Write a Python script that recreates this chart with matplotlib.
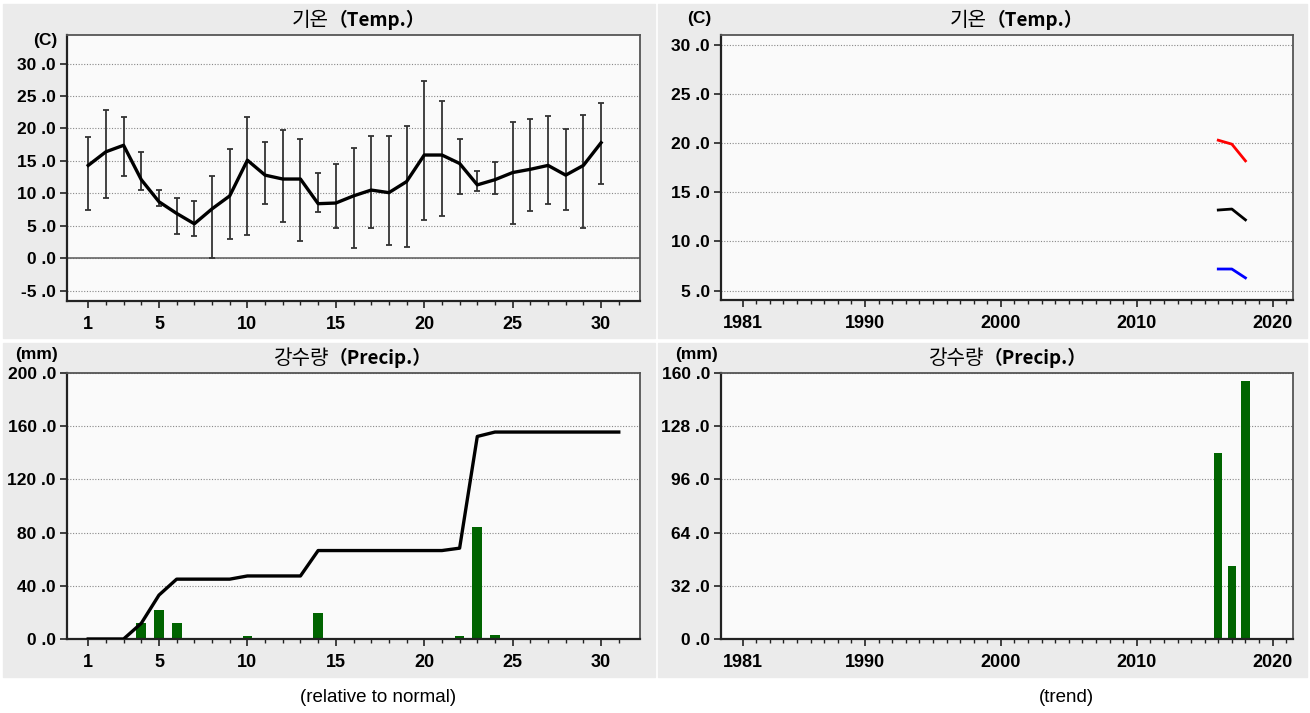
import matplotlib
matplotlib.use("Agg")
from matplotlib import pyplot as plt
from matplotlib.patches import Rectangle
from matplotlib.ticker import FixedLocator, FuncFormatter

days = list(range(1, 31))
temp_mean = [14.3, 16.4, 17.4, 12.1, 8.7, 6.9, 5.3, 7.6, 9.6, 15.1, 12.8, 12.2, 12.2, 8.4, 8.5,
             9.6, 10.5, 10.1, 11.8, 15.9, 15.9, 14.6, 11.3, 12.1, 13.2, 13.7, 14.3, 12.8, 14.3, 17.8]
temp_hi = [18.7, 22.8, 21.8, 16.3, 10.5, 9.2, 8.8, 12.6, 16.9, 21.7, 17.9, 19.8, 18.3, 13.2, 14.5,
           17.0, 18.8, 18.8, 20.4, 27.3, 24.2, 18.4, 13.5, 14.8, 21.0, 21.5, 21.9, 19.9, 22.1, 23.9]
temp_lo = [7.5, 9.2, 12.6, 10.5, 8.1, 3.7, 3.4, 0.0, 3.0, 3.6, 8.4, 5.6, 2.7, 7.1, 4.6,
           1.5, 4.6, 2.1, 1.7, 5.9, 6.5, 9.9, 10.4, 9.9, 5.3, 7.2, 8.4, 7.4, 4.6, 11.4]

rain_days = list(range(1, 32))
rain_daily = [0, 0, 0, 11.8, 22.0, 11.8, 0, 0, 0, 2.3, 0, 0, 0, 19.3, 0, 0,
              0, 0, 0, 0, 0, 2.0, 84.5, 3.0, 0, 0, 0, 0, 0, 0, 0]
rain_cum = [0, 0, 0, 11.8, 33.0, 45.0, 45.0, 45.0, 45.0, 47.4, 47.4, 47.4, 47.4, 66.5, 66.5, 66.5,
            66.5, 66.5, 66.5, 66.5, 66.5, 68.3, 152.3, 155.6, 155.6, 155.6, 155.6, 155.6, 155.6, 155.6, 155.6]

trend_years = [2016, 2017, 2018]
tmax_trend = [20.3, 19.9, 18.2]
tavg_trend = [13.2, 13.3, 12.2]
tmin_trend = [7.2, 7.2, 6.3]
rain_trend = [112.0, 44.0, 155.2]

W, H = 1310, 713
KR = ["Noto Sans CJK KR", "DejaVu Sans"]
plt.rcParams["font.family"] = ["Liberation Sans", "DejaVu Sans"]

fig = plt.figure(figsize=(W / 100, H / 100), dpi=100)
fig.patch.set_facecolor("white")


def px_box(x0, y0, x1, y1):
    return [x0 / W, 1 - y1 / H, (x1 - x0) / W, (y1 - y0) / H]


# gray panel backgrounds
for x0, y0, x1, y1 in [(3, 4, 655, 338), (658, 4, 1307, 338), (3, 343, 655, 677), (658, 343, 1307, 677)]:
    fig.add_artist(Rectangle((x0 / W, 1 - y1 / H), (x1 - x0) / W, (y1 - y0) / H,
                             transform=fig.transFigure, color="#ebebeb", zorder=0))

fmt = FuncFormatter(lambda v, p: f"{v:.1f}".replace(".", " ."))


def style(ax, yticks, xmajor, xminor):
    ax.set_facecolor("#fafafa")
    ax.set_yticks(yticks)
    ax.yaxis.set_major_formatter(fmt)
    ax.set_xticks(xmajor)
    ax.xaxis.set_minor_locator(FixedLocator(xminor))
    ax.tick_params(axis="both", which="major", length=5, width=1.2, color="#222")
    ax.tick_params(axis="x", which="major", pad=6, labelsize=13)
    ax.tick_params(axis="y", which="major", pad=3, labelsize=12.5)
    ax.tick_params(axis="x", which="minor", length=3, width=1, color="#222")
    for lab in ax.get_xticklabels() + ax.get_yticklabels():
        lab.set_fontweight("bold")
    ax.grid(axis="y", color="#888", linestyle=(0, (1, 1.5)), linewidth=0.8)
    ax.set_axisbelow(True)
    for s in ["left", "bottom"]:
        ax.spines[s].set_color("#222")
        ax.spines[s].set_linewidth(1.6)
    for s in ["top", "right"]:
        ax.spines[s].set_color("#555")
        ax.spines[s].set_linewidth(1.3)


def title(cx_split, y, kr, en):
    fig.text(cx_split / W, 1 - y / H, kr, family=KR, fontsize=14.5, ha="right", va="center")
    fig.text(cx_split / W, 1 - y / H, en, family=KR, fontsize=13.5, fontweight="bold",
             ha="left", va="center")


day_minor = list(range(1, 32))
day_major = [1, 5, 10, 15, 20, 25, 30]
year_major = [1981, 1990, 2000, 2010, 2020]
year_minor = list(range(1981, 2022))

# top left: daily temperature
ax1 = fig.add_axes(px_box(67, 35, 640, 301))
style(ax1, [-5, 0, 5, 10, 15, 20, 25, 30], day_major, day_minor)
ax1.axhline(0, color="#666", linewidth=1.2, zorder=1)
err_lo = [m - lo for m, lo in zip(temp_mean, temp_lo)]
err_hi = [hi - m for m, hi in zip(temp_mean, temp_hi)]
ax1.errorbar(days, temp_mean, yerr=[err_lo, err_hi], fmt="none", ecolor="#333",
             elinewidth=1.3, capsize=2.5, capthick=1.3, zorder=2)
ax1.plot(days, temp_mean, color="black", linewidth=2.4, zorder=3)
ax1.set_xlim(-0.2, 32.2)
ax1.set_ylim(-6.6, 34.4)

# top right: temperature trend
ax2 = fig.add_axes(px_box(721, 35, 1293, 300))
style(ax2, [5, 10, 15, 20, 25, 30], year_major, year_minor)
ax2.plot(trend_years, tmax_trend, color="#ff0000", linewidth=2)
ax2.plot(trend_years, tavg_trend, color="black", linewidth=2)
ax2.plot(trend_years, tmin_trend, color="#0000ff", linewidth=2)
ax2.set_xlim(1979.4, 2021.5)
ax2.set_ylim(4.05, 31.0)

# bottom left: daily precipitation
ax3 = fig.add_axes(px_box(67, 373, 640, 639))
style(ax3, [0, 40, 80, 120, 160, 200], day_major, day_minor)
ax3.bar(rain_days, rain_daily, width=0.55, color="#006400", zorder=2)
ax3.plot(rain_days, rain_cum, color="black", linewidth=2.4, zorder=3)
ax3.set_xlim(-0.2, 32.2)
ax3.set_ylim(0, 200)

# bottom right: precipitation trend
ax4 = fig.add_axes(px_box(721, 373, 1293, 639))
style(ax4, [0, 32, 64, 96, 128, 160], year_major, year_minor)
ax4.bar(trend_years, rain_trend, width=0.6, color="#006400", zorder=2)
ax4.set_xlim(1979.4, 2021.5)
ax4.set_ylim(0, 160)

title(329, 20, "기온", "（Temp.）")
title(987, 20, "기온", "（Temp.）")
title(329, 358, "강수량", "（Precip.）")
title(984, 358, "강수량", "（Precip.）")

unit_kw = dict(fontsize=12.5, fontweight="bold", ha="center", va="center")
fig.text(45 / W, 1 - 40 / H, "(C)", **unit_kw)
fig.text(699 / W, 1 - 19 / H, "(C)", **unit_kw)
fig.text(36 / W, 1 - 354 / H, "(mm)", **unit_kw)
fig.text(696 / W, 1 - 354 / H, "(mm)", **unit_kw)

fig.text(378 / W, 1 - 697 / H, "(relative to normal)", fontsize=13.5, ha="center", va="center")
fig.text(1066 / W, 1 - 697 / H, "(trend)", fontsize=13.5, ha="center", va="center")

fig.savefig("out.png", dpi=100, facecolor=fig.get_facecolor())
